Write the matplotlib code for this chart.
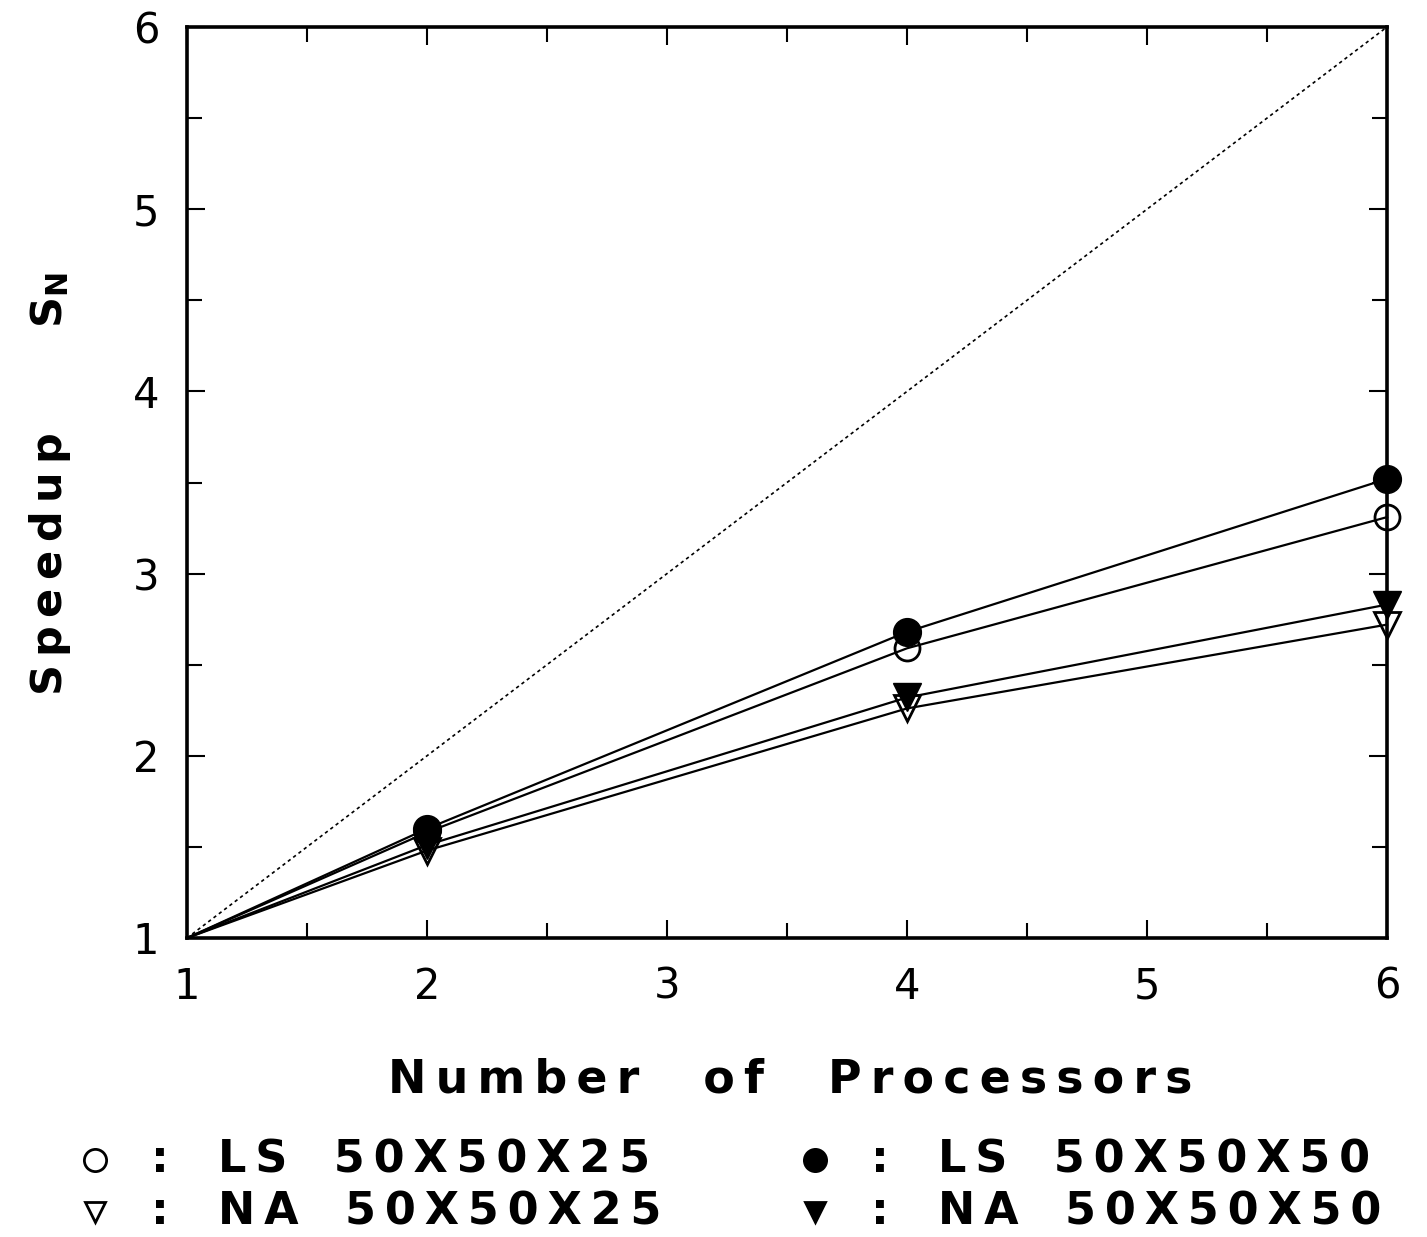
import matplotlib
matplotlib.use('Agg')
import matplotlib.pyplot as plt
from matplotlib.ticker import MultipleLocator
from matplotlib.lines import Line2D

# Data
procs = [1, 2, 4, 6]
ls_25 = [1.0, 1.58, 2.59, 3.31]
ls_50 = [1.0, 1.60, 2.68, 3.52]
na_25 = [1.0, 1.48, 2.26, 2.72]
na_50 = [1.0, 1.51, 2.32, 2.83]
ideal = [1, 6]

legend_rows = [
    ('o', 'none', 'LS  50X50X25', 'o', 'black', 'LS  50X50X50'),
    ('v', 'none', 'NA  50X50X25', 'v', 'black', 'NA  50X50X50'),
]

plt.rcParams['font.family'] = ['DejaVu Sans']

W, H = 1427, 1237
fig = plt.figure(figsize=(W / 100, H / 100), dpi=100)
ax = fig.add_axes([187 / W, 1 - 938 / H, 1200 / W, 911 / H])


def spaced(s):
    # thin spaces between letters, like the wide lettering of the original
    return '\u2009'.join(s)


def fx(px):
    return px / W


def fy(py):
    return 1 - py / H


ax.plot(ideal, ideal, color='black', linestyle=(0, (2, 2)), linewidth=1.2)

ax.plot(procs, ls_25, color='black', linewidth=1.6, marker='o', markersize=18,
        markerfacecolor='none', markeredgewidth=2, markevery=[1, 2, 3], clip_on=False)
ax.plot(procs, ls_50, color='black', linewidth=1.6, marker='o', markersize=20,
        markevery=[1, 2, 3], clip_on=False)
ax.plot(procs, na_25, color='black', linewidth=1.6, marker='v', markersize=19,
        markerfacecolor='none', markeredgewidth=2, markevery=[1, 2, 3], clip_on=False)
ax.plot(procs, na_50, color='black', linewidth=1.6, marker='v', markersize=20,
        markevery=[1, 2, 3], clip_on=False)

ax.set_xlim(1, 6)
ax.set_ylim(1, 6)
ax.xaxis.set_major_locator(MultipleLocator(1))
ax.yaxis.set_major_locator(MultipleLocator(1))
ax.xaxis.set_minor_locator(MultipleLocator(0.5))
ax.yaxis.set_minor_locator(MultipleLocator(0.5))
ax.tick_params(which='both', direction='in', top=True, right=True, width=1.5)
ax.tick_params(which='major', length=13, pad=20, labelsize=30)
ax.tick_params(which='minor', length=11)
for s in ax.spines.values():
    s.set_linewidth(2.6)

fig.text(fx(790), fy(1080), spaced('Number') + '    ' + spaced('of') + '    ' + spaced('Processors'),
         fontsize=33, fontweight='bold', ha='center', va='center')
fig.text(fx(50), fy(484), spaced('Speedup') + r'       $\mathbf{S_N}$',
         fontsize=31, fontweight='bold', ha='center', va='center', rotation=90)

row_y = [1160, 1212]
for (m1, f1, t1, m2, f2, t2), y in zip(legend_rows, row_y):
    for mx, m, fc, t in [(95, m1, f1, t1), (815, m2, f2, t2)]:
        size = 16 if m == 'o' else 15
        fig.add_artist(Line2D([fx(mx)], [fy(y)], marker=m, markersize=size,
                              markerfacecolor=fc, markeredgecolor='black',
                              markeredgewidth=2, transform=fig.transFigure))
        fig.text(fx(mx + 65), fy(y), ':', fontsize=32, fontweight='bold',
                 ha='center', va='center')
        word, dims = t.split('  ')
        fig.text(fx(mx + 123), fy(y), spaced(word) + '   ' + spaced(dims),
                 fontsize=32, fontweight='bold', ha='left', va='center')

fig.savefig('out.png', dpi=100)
